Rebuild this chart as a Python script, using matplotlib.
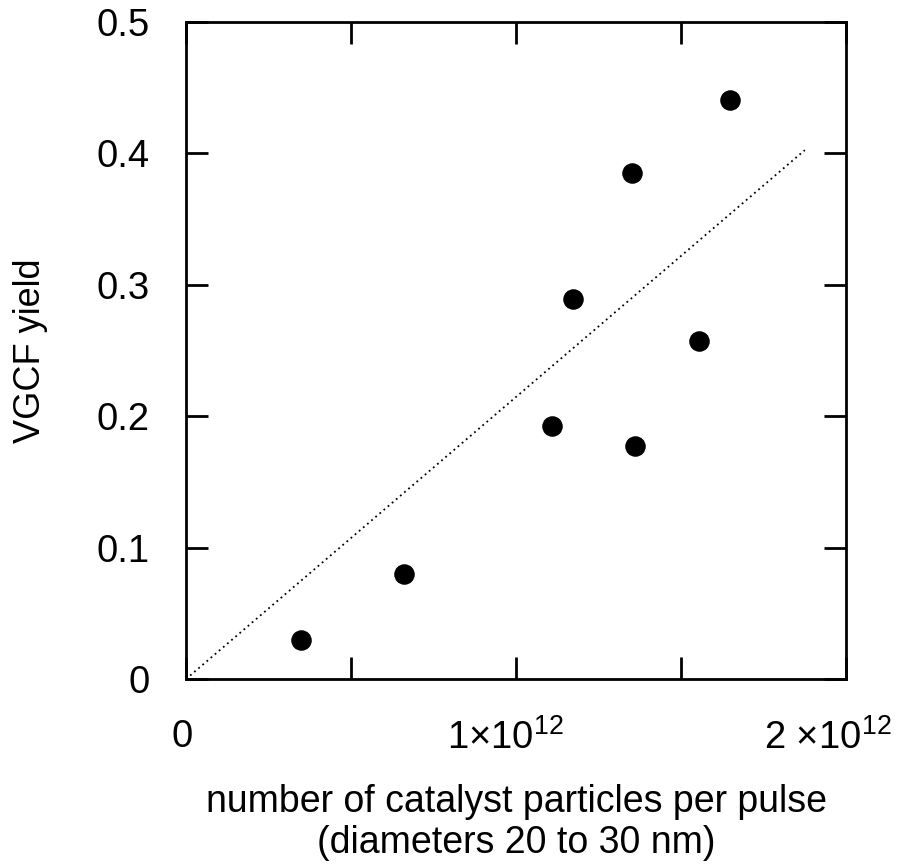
import matplotlib.pyplot as plt
from matplotlib.transforms import ScaledTranslation

plt.rcParams['font.family'] = ['Liberation Sans', 'DejaVu Sans']
plt.rcParams['mathtext.fontset'] = 'custom'
plt.rcParams['mathtext.rm'] = 'Liberation Sans'
plt.rcParams['mathtext.it'] = 'Liberation Sans'

# number of catalyst particles per pulse (x 1e12) and VGCF yield
particles = [0.348, 0.661, 1.108, 1.172, 1.352, 1.361, 1.555, 1.649]
yield_ = [0.030, 0.080, 0.1925, 0.289, 0.385, 0.177, 0.2575, 0.441]

# dotted fit line end points
fit_x = [0.0, 1.875]
fit_y = [0.0, 0.4025]

x_ticks = [0, 0.5, 1.0, 1.5, 2.0]
x_labels = ['0', '', r'$1{\times}10^{12}$', '', r'$2\ {\times}10^{12}$']
y_ticks = [0, 0.1, 0.2, 0.3, 0.4, 0.5]
y_labels = ['0', '0.1', '0.2', '0.3', '0.4', '0.5']

fig = plt.figure(figsize=(8.99, 8.67), dpi=100)
ax = fig.add_axes([0.2069, 0.2168, 0.7342, 0.7578])

ax.plot(fit_x, fit_y, color='black', lw=1.3, linestyle=(0, (1, 2)))
ax.scatter(particles, yield_, s=190, color='black', zorder=3)

ax.set_xlim(0, 2.0)
ax.set_ylim(0, 0.5)
ax.set_xticks(x_ticks)
ax.set_xticklabels(x_labels)
ax.set_yticks(y_ticks)
ax.set_yticklabels(y_labels)

ax.tick_params(direction='in', length=16, width=2, top=True, right=True,
               labelsize=27.5)
ax.tick_params(axis='x', pad=29)
ax.tick_params(axis='y', pad=26)
for s in ax.spines.values():
    s.set_linewidth(2)

# labels in the original sit a bit left of their ticks
shifts = [-4, 0, -11, 0, -18]
for lab, dx in zip(ax.get_xticklabels(), shifts):
    lab.set_transform(lab.get_transform() + ScaledTranslation(dx / 100, 0, fig.dpi_scale_trans))

ax.set_xlabel('number of catalyst particles per pulse\n(diameters 20 to 30 nm)',
              fontsize=27, labelpad=19, linespacing=1.18)
ax.set_ylabel('VGCF yield', fontsize=26, labelpad=35)

fig.savefig('out.png', dpi=100)
